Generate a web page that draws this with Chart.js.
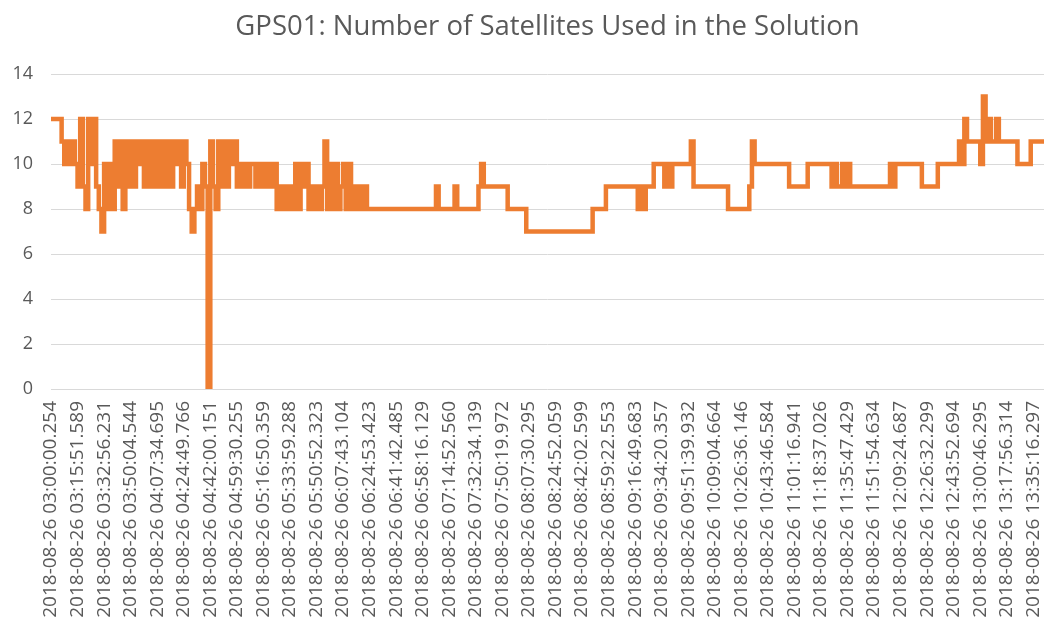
<!DOCTYPE html>
<html>
<head>
<meta charset="utf-8">
<script src="https://cdn.jsdelivr.net/npm/chart.js@4/dist/chart.umd.min.js"></script>
<style>
  html, body { margin: 0; padding: 0; background: #fff; }
  #wrap { width: 1044px; height: 621px; position: relative; }
</style>
</head>
<body>
<div id="wrap"><canvas id="satChart"></canvas></div>
<script>
// time stamp shown every 10th sample
const timeLabels = [
    '2018-08-26 03:00:00.254', '2018-08-26 03:15:51.589', '2018-08-26 03:32:56.231',
    '2018-08-26 03:50:04.544', '2018-08-26 04:07:34.695', '2018-08-26 04:24:49.766',
    '2018-08-26 04:42:00.151', '2018-08-26 04:59:30.255', '2018-08-26 05:16:50.359',
    '2018-08-26 05:33:59.288', '2018-08-26 05:50:52.323', '2018-08-26 06:07:43.104',
    '2018-08-26 06:24:53.423', '2018-08-26 06:41:42.485', '2018-08-26 06:58:16.129',
    '2018-08-26 07:14:52.560', '2018-08-26 07:32:34.139', '2018-08-26 07:50:19.972',
    '2018-08-26 08:07:30.295', '2018-08-26 08:24:52.059', '2018-08-26 08:42:02.599',
    '2018-08-26 08:59:22.553', '2018-08-26 09:16:49.683', '2018-08-26 09:34:20.357',
    '2018-08-26 09:51:39.932', '2018-08-26 10:09:04.664', '2018-08-26 10:26:36.146',
    '2018-08-26 10:43:46.584', '2018-08-26 11:01:16.941', '2018-08-26 11:18:37.026',
    '2018-08-26 11:35:47.429', '2018-08-26 11:51:54.634', '2018-08-26 12:09:24.687',
    '2018-08-26 12:26:32.299', '2018-08-26 12:43:52.694', '2018-08-26 13:00:46.295',
    '2018-08-26 13:17:56.314', '2018-08-26 13:35:16.297'
];
const samplesPerLabel = 10;

// number of satellites, one row per label interval
const satellites = [
    12, 12, 12, 12, 11, 10, 11, 10, 11, 10,
    9, 12, 9, 8, 12, 10, 12, 9, 8, 7,
    10, 8, 10, 8, 11, 9, 11, 8, 11, 9,
    11, 9, 11, 10, 11, 9, 11, 9, 11, 9,
    11, 9, 11, 9, 11, 9, 11, 10, 11, 9,
    11, 10, 8, 7, 8, 9, 8, 10, 9, 0,
    11, 9, 8, 11, 9, 11, 9, 11, 10, 11,
    9, 10, 9, 10, 9, 10, 10, 9, 10, 9,
    10, 9, 10, 9, 10, 8, 9, 8, 9, 8,
    9, 8, 10, 8, 10, 9, 10, 8, 9, 8,
    9, 8, 9, 11, 8, 10, 8, 10, 8, 9,
    10, 8, 10, 8, 9, 8, 9, 8, 9, 8,
    8, 8, 8, 8, 8, 8, 8, 8, 8, 8,
    8, 8, 8, 8, 8, 8, 8, 8, 8, 8,
    8, 8, 8, 8, 8, 9, 8, 8, 8, 8,
    8, 8, 9, 8, 8, 8, 8, 8, 8, 8,
    8, 9, 10, 9, 9, 9, 9, 9, 9, 9,
    9, 9, 8, 8, 8, 8, 8, 8, 8, 7,
    7, 7, 7, 7, 7, 7, 7, 7, 7, 7,
    7, 7, 7, 7, 7, 7, 7, 7, 7, 7,
    7, 7, 7, 7, 8, 8, 8, 8, 8, 9,
    9, 9, 9, 9, 9, 9, 9, 9, 9, 9,
    9, 8, 9, 8, 9, 9, 9, 10, 10, 10,
    10, 9, 10, 9, 10, 10, 10, 10, 10, 10,
    10, 11, 9, 9, 9, 9, 9, 9, 9, 9,
    9, 9, 9, 9, 9, 8, 8, 8, 8, 8,
    8, 8, 8, 9, 11, 10, 10, 10, 10, 10,
    10, 10, 10, 10, 10, 10, 10, 10, 9, 9,
    9, 9, 9, 9, 9, 10, 10, 10, 10, 10,
    10, 10, 10, 10, 9, 10, 9, 9, 10, 9,
    10, 9, 9, 9, 9, 9, 9, 9, 9, 9,
    9, 9, 9, 9, 9, 9, 10, 9, 10, 10,
    10, 10, 10, 10, 10, 10, 10, 10, 9, 9,
    9, 9, 9, 9, 10, 10, 10, 10, 10, 10,
    10, 10, 11, 10, 12, 11, 11, 11, 11, 11,
    10, 13, 11, 12, 11, 11, 12, 11, 11, 11,
    11, 11, 11, 11, 10, 10, 10, 10, 10, 11,
    11, 11, 11, 11, 11
];

const yTicks = [0, 2, 4, 6, 8, 10, 12, 14];

const grey = '#595959';
const font = "'Open Sans', 'Liberation Sans', sans-serif";

new Chart(document.getElementById('satChart'), {
    type: 'line',
    data: {
        datasets: [{
            data: satellites.map((v, i) => ({ x: i, y: v })),
            borderColor: '#ED7D31',
            borderWidth: 4.5,
            pointRadius: 0,
            stepped: 'before',
            fill: false
        }]
    },
    options: {
        responsive: true,
        maintainAspectRatio: false,
        animation: false,
        layout: { padding: { left: 0, right: 0, top: 0, bottom: 0 } },
        plugins: {
            legend: { display: false },
            tooltip: { enabled: false },
            title: {
                display: true,
                fullSize: false,
                text: 'GPS01: Number of Satellites Used in the Solution',
                color: grey,
                font: { family: font, size: 27.5, weight: 'normal' },
                padding: { top: 10.5, bottom: 30.5 }
            }
        },
        scales: {
            x: {
                type: 'linear',
                min: 0,
                max: satellites.length - 1,
                grid: { display: false, drawTicks: false },
                border: { display: false },
                ticks: {
                    stepSize: samplesPerLabel,
                    autoSkip: false,
                    includeBounds: false,
                    minRotation: 90,
                    maxRotation: 90,
                    padding: 12,
                    color: grey,
                    font: { family: font, size: 19 },
                    callback: v => timeLabels[v / samplesPerLabel] || ''
                },
                afterFit: s => { s.height = 232; s.paddingLeft = 0; s.paddingRight = 0; }
            },
            y: {
                min: yTicks[0],
                max: yTicks[yTicks.length - 1],
                grid: { color: '#D9D9D9', lineWidth: 1, drawTicks: false },
                border: { display: false },
                ticks: {
                    stepSize: 2,
                    padding: 18,
                    color: grey,
                    font: { family: font, size: 18 }
                },
                afterFit: s => { s.width = 51; }
            }
        }
    }
});
</script>
</body>
</html>
